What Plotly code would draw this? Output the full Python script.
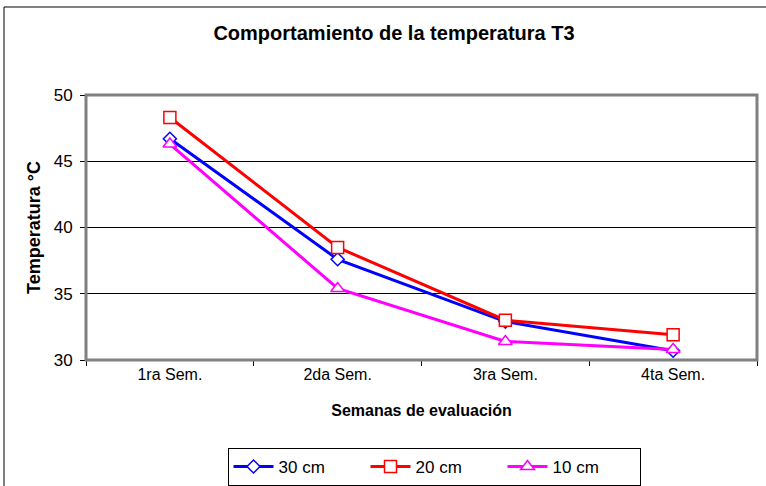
import plotly.graph_objects as go

semanas = ["1ra Sem.", "2da Sem.", "3ra Sem.", "4ta Sem."]
t_30cm = [46.7, 37.6, 32.9, 30.7]
t_20cm = [48.3, 38.5, 33.0, 31.9]
t_10cm = [46.3, 35.4, 31.4, 30.8]

series = [
    ("30 cm", t_30cm, "#0000FF", "diamond", 10),
    ("20 cm", t_20cm, "#FF0000", "square", 12),
    ("10 cm", t_10cm, "#FF00FF", "triangle-up", 12),
]

fig = go.Figure()
for name, vals, col, sym, sz in series:
    fig.add_trace(go.Scatter(
        x=semanas, y=vals, name=name, mode="lines+markers",
        line=dict(color=col, width=3),
        marker=dict(symbol=sym, size=sz, color="white", line=dict(color=col, width=1.5)),
    ))

L, R, T, B = 86, 9, 95, 126
W, H = 766, 486
pw, ph = W - L - R, H - T - B

def px(x):
    return (x - L) / pw

def py(y):
    return (H - B - y) / ph

shapes = [
    dict(type="rect", xref="paper", yref="paper", x0=0, x1=1, y0=0, y1=1,
         line=dict(color="#808080", width=3), layer="above"),
    dict(type="line", xref="paper", yref="paper", x0=px(4), x1=px(4), y0=py(7), y1=py(490),
         line=dict(color="black", width=1)),
    dict(type="line", xref="paper", yref="paper", x0=px(4), x1=px(770), y0=py(7), y1=py(7),
         line=dict(color="black", width=1)),
]

fig.update_layout(
    width=W, height=H,
    margin=dict(l=L, r=R, t=T, b=B, autoexpand=False),
    paper_bgcolor="white", plot_bgcolor="white",
    font=dict(family="Liberation Sans, Arial, sans-serif", color="black", size=15),
    title=dict(text="<b>Comportamiento de la temperatura T3</b>", x=394 / W, xanchor="center",
               xref="container", y=1 - 33 / H, yanchor="middle", font=dict(size=20)),
    showlegend=True,
    legend=dict(orientation="h", x=px(434), xanchor="center", y=py(448), yanchor="top",
                bordercolor="black", borderwidth=1, bgcolor="white",
                font=dict(size=17), entrywidth=82, itemwidth=40, tracegroupgap=0),
    shapes=shapes,
)

fig.update_xaxes(
    type="category", range=[-0.5, 3.5], tickson="boundaries", ticks="outside", ticklen=5,
    tickcolor="black", automargin=False,
    showline=True, linecolor="black", linewidth=1, showgrid=False,
    tickfont=dict(size=16),
    title=dict(text="<b>Semanas de evaluación</b>", font=dict(size=16), standoff=22),
)
fig.update_yaxes(
    range=[30, 50], dtick=5, ticks="outside", ticklen=5, tickcolor="black",
    showline=True, linecolor="black", linewidth=1, automargin=False,
    showgrid=True, gridcolor="black", gridwidth=1,
    tickfont=dict(size=17), ticklabelstandoff=4,
    title=dict(text="<b>Temperatura °C</b>", font=dict(size=18), standoff=8),
    zeroline=False,
)

fig.write_html("out.html")
